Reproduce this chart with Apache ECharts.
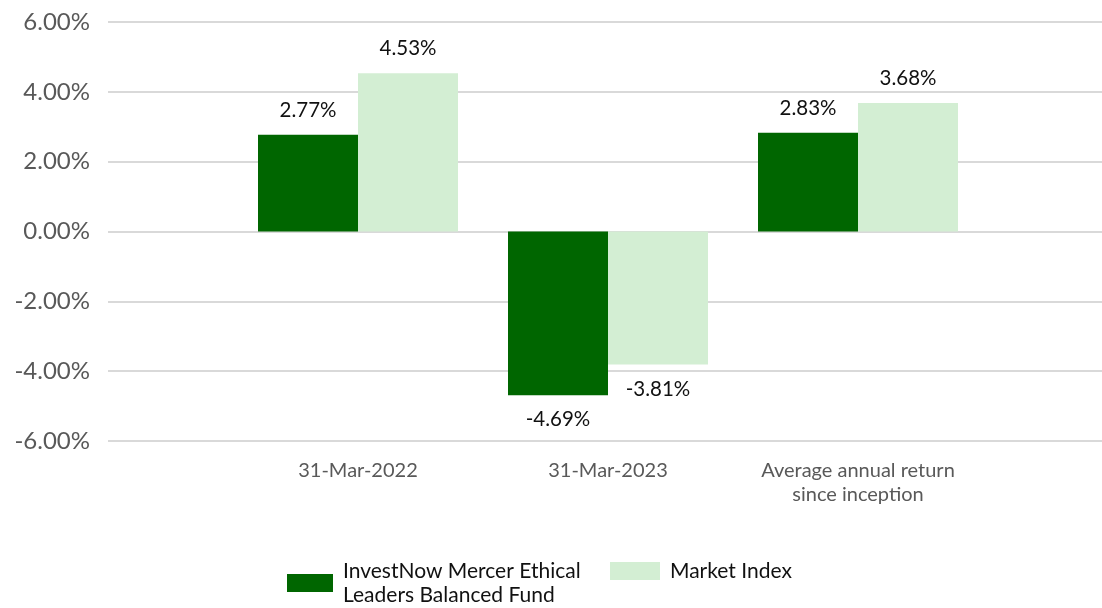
<!DOCTYPE html>
<html>
<head>
<meta charset="utf-8">
<script src="https://cdn.jsdelivr.net/npm/echarts@6/dist/echarts.min.js"></script>
<style>
  html, body { margin: 0; padding: 0; background: #fff; }
  #chart { width: 1102px; height: 608px; }
</style>
</head>
<body>
<div id="chart"></div>
<script>
// Performance periods (empty entries pad the axis so bars sit where the original puts them)
const periods = ['', '31-Mar-2022', '31-Mar-2023', 'Average annual return\nsince inception', ''];
const fundName = 'InvestNow Mercer Ethical\nLeaders Balanced Fund';
const indexName = 'Market Index';
const fundReturns = [null, 2.77, -4.69, 2.83, null];
const indexReturns = [null, 4.53, -3.81, 3.68, null];

const chart = echarts.init(document.getElementById('chart'));

function barLabel() {
    return {
        show: true,
        position: 'top',
        distance: 13,
        fontFamily: 'Lato',
        fontSize: 20.5,
        color: '#111',
        backgroundColor: '#fff',
        padding: [1, 4],
        formatter: p => p.value.toFixed(2) + '%'
    };
}

function makeSeries(name, values, color) {
    return {
        name: name,
        type: 'bar',
        barWidth: 100,
        barGap: '0%',
        itemStyle: { color: color },
        data: values.map(v => v === null ? null : {
            value: v,
            label: Object.assign(barLabel(), { position: v < 0 ? 'bottom' : 'top' })
        })
    };
}

const option = {
    animation: false,
    textStyle: { fontFamily: 'Lato' },
    grid: { left: 108, top: 22, right: -6, bottom: 167, containLabel: false, outerBoundsMode: 'none' },
    legend: [
        {
            data: [fundName],
            left: 287, top: 559, padding: 0,
            itemWidth: 46, itemHeight: 18,
            icon: 'rect',
            textStyle: { fontFamily: 'Lato', fontSize: 21, lineHeight: 24, color: '#111', padding: [0, 0, 0, 5] }
        },
        {
            data: [indexName],
            left: 610, top: 559, padding: 0,
            itemWidth: 50, itemHeight: 18,
            icon: 'rect',
            textStyle: { fontFamily: 'Lato', fontSize: 21, lineHeight: 24, color: '#111', padding: [0, 0, 0, 5] }
        }
    ],
    xAxis: {
        type: 'category',
        data: periods,
        boundaryGap: false,
        axisLine: { show: false },
        axisTick: { show: false },
        axisLabel: {
            interval: 0,
            margin: 18,
            fontFamily: 'Lato',
            fontSize: 20,
            lineHeight: 24,
            color: '#595959'
        },
        splitLine: { show: false }
    },
    yAxis: {
        type: 'value',
        min: -6,
        max: 6,
        interval: 2,
        axisLine: { show: false },
        axisTick: { show: false },
        axisLabel: {
            margin: 18,
            fontFamily: 'Lato',
            fontSize: 24,
            color: '#595959',
            formatter: v => v.toFixed(2) + '%'
        },
        splitLine: { lineStyle: { color: '#d9d9d9', width: 2 } }
    },
    series: [
        makeSeries(fundName, fundReturns, '#006600'),
        makeSeries(indexName, indexReturns, '#d3eed3')
    ]
};

chart.setOption(option);
</script>
</body>
</html>
